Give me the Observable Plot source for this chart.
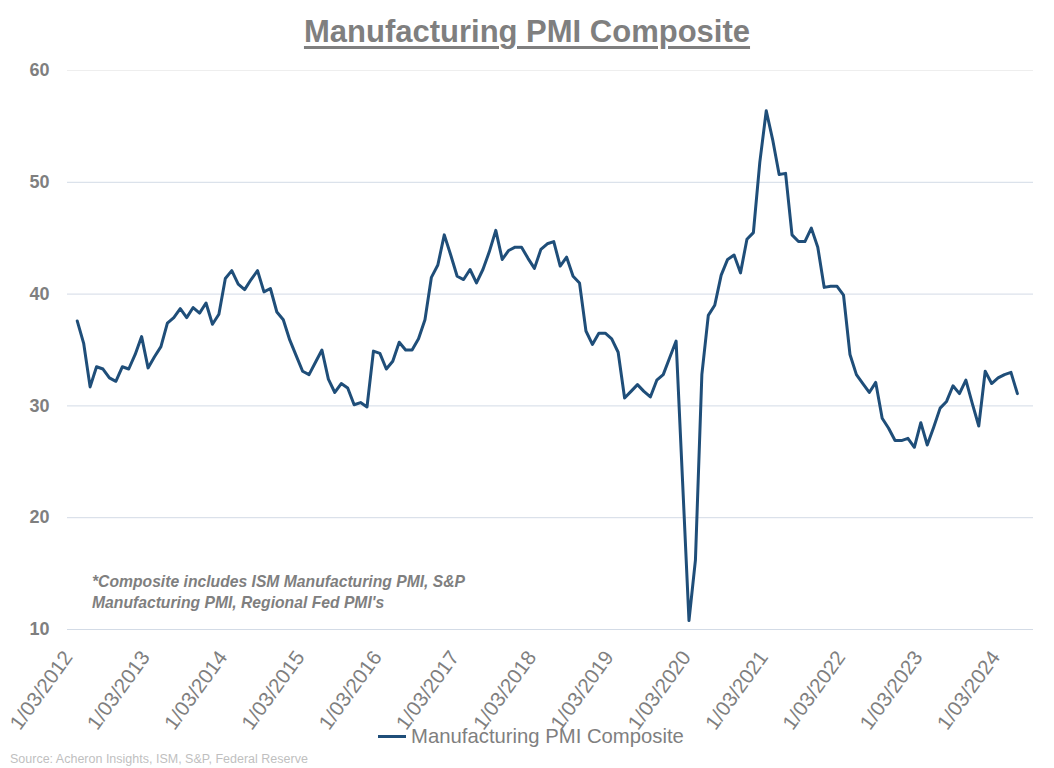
<!DOCTYPE html>
<html>
<head>
<meta charset="utf-8">
<script src="https://cdn.jsdelivr.net/npm/d3@7"></script>
<script src="https://cdn.jsdelivr.net/npm/@observablehq/plot@0.6"></script>
<style>
  html, body { margin: 0; padding: 0; background: #ffffff; }
  body { width: 1054px; height: 768px; position: relative; overflow: hidden; font-family: "Liberation Sans", Arial, sans-serif; }
  #title { position: absolute; left: 0; top: 14px; width: 1054px; text-align: center; font-size: 31px; font-weight: bold; color: #7f7f7f; text-decoration: underline; text-decoration-thickness: 3px; text-underline-offset: 4px; }
  #chart { position: absolute; left: 0; top: 55px; }
  #note { position: absolute; left: 92px; top: 571px; font-size: 15.7px; font-weight: bold; font-style: italic; color: #7f7f7f; line-height: 21px; }
  #legend { position: absolute; left: 4px; top: 725px; width: 1054px; display: flex; justify-content: center; align-items: center; font-size: 20.3px; color: #7f7f7f; }
  #legend .swatch { display: inline-block; width: 28px; height: 3px; background: #1f4e79; margin-right: 5px; }
  #source { position: absolute; left: 10px; top: 752px; font-size: 12.5px; color: #bfbfbf; }
</style>
</head>
<body>
<div id="title">Manufacturing PMI Composite</div>
<div id="chart"></div>
<div id="note">*Composite includes ISM Manufacturing PMI, S&amp;P<br>Manufacturing PMI, Regional Fed PMI's</div>
<div id="legend"><span class="swatch"></span><span>Manufacturing PMI Composite</span></div>
<div id="source">Source: Acheron Insights, ISM, S&amp;P, Federal Reserve</div>
<script>
// Monthly composite values, starting 1/03/2012
const pmi2012to2014 = [37.6, 35.6, 31.7, 33.5, 33.3, 32.5, 32.2, 33.5, 33.3, 34.6, 36.2, 33.4,
  34.4, 35.3, 37.4, 37.9, 38.7, 37.9, 38.8, 38.3, 39.2, 37.3, 38.2, 41.4];
const pmi2014to2016 = [42.1, 40.9, 40.4, 41.3, 42.1, 40.2, 40.5, 38.4, 37.7, 35.9, 34.5, 33.1,
  32.8, 33.9, 35.0, 32.4, 31.2, 32.0, 31.6, 30.1, 30.3, 29.9, 34.9, 34.7];
const pmi2016to2018 = [33.3, 34.0, 35.7, 35.0, 35.0, 36.0, 37.7, 41.5, 42.6, 45.3, 43.5, 41.6,
  41.3, 42.2, 41.0, 42.2, 43.8, 45.7, 43.1, 43.9, 44.2, 44.2, 43.2, 42.3];
const pmi2018to2020 = [44.0, 44.5, 44.7, 42.5, 43.3, 41.6, 41.0, 36.7, 35.5, 36.5, 36.5, 36.0,
  34.8, 30.7, 31.3, 31.9, 31.3, 30.8, 32.3, 32.8, 34.3, 35.8, 23.3, 10.8];
const pmi2020to2022 = [16.2, 32.8, 38.1, 39.0, 41.7, 43.1, 43.5, 41.9, 44.9, 45.5, 51.8, 56.4,
  53.8, 50.7, 50.8, 45.3, 44.7, 44.7, 45.9, 44.2, 40.6, 40.7, 40.7, 39.9];
const pmi2022to2024 = [34.6, 32.8, 32.0, 31.2, 32.1, 28.9, 28.0, 26.9, 26.9, 27.1, 26.3, 28.5,
  26.5, 28.1, 29.8, 30.4, 31.8, 31.1, 32.3, 30.2, 28.2, 33.1, 32.0, 32.5];
const pmi2024 = [32.8, 33.0, 31.1];

const xTickLabels = ["1/03/2012", "1/03/2013", "1/03/2014", "1/03/2015", "1/03/2016", "1/03/2017",
  "1/03/2018", "1/03/2019", "1/03/2020", "1/03/2021", "1/03/2022", "1/03/2023", "1/03/2024"];
const yTicks = [10, 20, 30, 40, 50, 60];

const values = [].concat(pmi2012to2014, pmi2014to2016, pmi2016to2018, pmi2018to2020, pmi2020to2022, pmi2022to2024, pmi2024);
const data = values.map((v, i) => ({i, v}));
const xTicks = xTickLabels.map((_, k) => k * 12);

const chart = Plot.plot({
  width: 1054,
  height: 690,
  marginLeft: 67,
  marginRight: 21,
  marginTop: 15,
  marginBottom: 116,
  style: {fontFamily: "Liberation Sans, Arial, sans-serif", background: "#ffffff", overflow: "visible", color: "#7f7f7f"},
  x: {type: "linear", domain: [-1.51, 148.5]},
  y: {domain: [10, 60]},
  marks: [
    Plot.ruleY(yTicks.filter(d => d < 60), {stroke: "#d3dbe6", strokeWidth: 1}),
    Plot.ruleY(yTicks.filter(d => d === 60), {stroke: "#eeeeee", strokeWidth: 1}),
    Plot.axisY({ticks: yTicks, tickSize: 0, tickPadding: 18, fontSize: 18, fontWeight: "bold", label: null, fill: "#7f7f7f"}),
    Plot.axisX({ticks: xTicks, tickFormat: d => xTickLabels[Math.round(d / 12)], tickRotate: -54, tickSize: 0, tickPadding: 24, dx: -9, fontSize: 20.5, label: null, fill: "#7f7f7f"}),
    Plot.line(data, {x: "i", y: "v", stroke: "#1f4e79", strokeWidth: 3, strokeLinejoin: "round"})
  ]
});
document.getElementById("chart").appendChild(chart);
</script>
</body>
</html>
